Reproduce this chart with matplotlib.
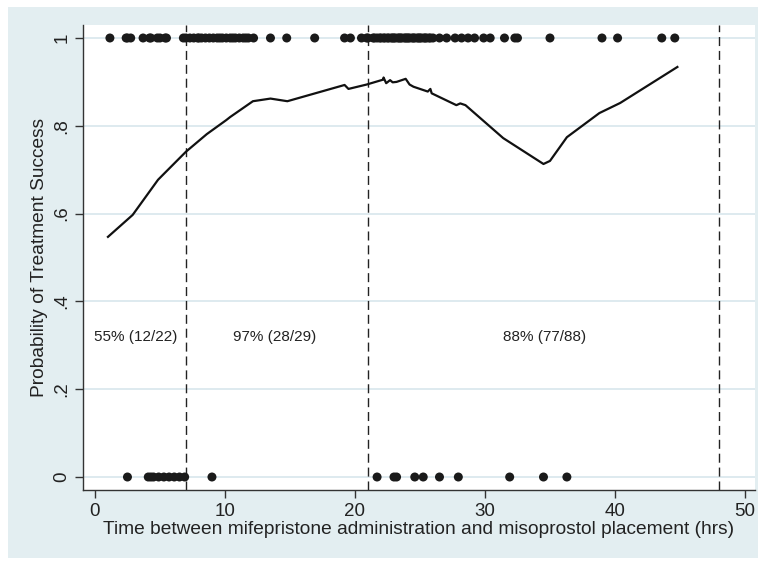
import matplotlib
matplotlib.use("Agg")
import matplotlib.pyplot as plt
from matplotlib.patches import Rectangle

plt.rcParams["font.family"] = ["Liberation Sans", "DejaVu Sans"]

# hours between mifepristone and misoprostol, successful cases (y = 1)
success_hrs = [1.15, 2.4, 2.5, 2.75, 3.7, 4.2, 4.3, 4.8, 5.0, 5.4, 5.5, 6.8,
               7.0, 7.3, 7.6, 7.9, 8.2, 8.5, 8.8, 9.1, 9.4, 9.8, 10.1, 10.4,
               10.8, 11.1, 11.4, 11.8, 12.2, 13.5, 14.75, 16.9, 19.2, 19.65,
               20.5, 20.9, 8.0, 9.6, 10.6, 11.6,
               21.0, 21.4, 21.5, 21.7, 21.9, 22.0, 22.2, 22.3, 22.5, 22.6, 22.8,
               22.9, 23.0, 23.1, 23.3, 23.4, 23.5, 23.6, 23.8, 23.9, 24.0, 24.1,
               24.2, 24.4, 24.5, 24.6, 24.8, 24.9, 25.0, 25.1, 25.3, 25.4, 25.5,
               25.7, 25.8, 26.0, 26.5, 27.05, 27.7, 28.2, 28.7, 29.2, 29.9,
               30.4, 31.5, 32.3, 32.5, 35.0, 39.0, 40.2, 43.6, 44.6]
# failed cases (y = 0)
failure_hrs = [2.5, 4.1, 4.3, 4.5, 4.9, 5.3, 5.7, 6.1, 6.5, 6.9, 9.0,
               21.7, 23.0, 23.2, 24.6, 25.25, 26.5, 27.95, 31.9, 34.5, 36.3]

# smoothed probability curve
curve_hrs = [1.0, 2.9, 4.85, 5.15, 7.0, 8.6, 10.1, 10.4, 12.15, 13.5, 14.8,
             19.2, 19.5, 20.9, 22.15, 22.2, 22.4, 22.7, 22.9, 23.2, 23.9, 24.2,
             24.5, 25.2, 25.6, 25.8, 25.9, 27.8, 28.1, 28.5, 31.4, 34.5, 35.0,
             36.3, 38.8, 40.4, 44.8]
curve_prob = [0.547, 0.597, 0.677, 0.686, 0.741, 0.781, 0.813, 0.820, 0.856,
              0.862, 0.856, 0.893, 0.884, 0.894, 0.905, 0.910, 0.897, 0.904,
              0.899, 0.900, 0.907, 0.894, 0.889, 0.882, 0.878, 0.884, 0.874,
              0.847, 0.851, 0.847, 0.772, 0.713, 0.720, 0.774, 0.829, 0.852,
              0.934]

cutoffs = [7, 21, 48]
group_labels = ["55% (12/22)", "97% (28/29)", "88% (77/88)"]
group_label_x = [3.1, 13.8, 34.6]

fig = plt.figure(figsize=(7.62, 5.64), dpi=100)
fig.patch.set_facecolor("white")
bg = Rectangle((8 / 762, 6 / 564), 750 / 762, 551 / 564,
               transform=fig.transFigure, facecolor="#e3eef1",
               edgecolor="none", zorder=-10)
fig.add_artist(bg)

ax = fig.add_axes([83 / 762, 74 / 564, 672 / 762, 465 / 564])
ax.set_zorder(1)
ax.set_facecolor("white")

ax.plot(curve_hrs, curve_prob, color="#111111", lw=1.6, zorder=3)
ax.scatter(success_hrs, [1] * len(success_hrs), s=42, color="#1a1a1a",
           edgecolors="none", zorder=4, clip_on=False)
ax.scatter(failure_hrs, [0] * len(failure_hrs), s=42, color="#1a1a1a",
           edgecolors="none", zorder=4, clip_on=False)
for c in cutoffs:
    ax.axvline(c, color="#222222", lw=1.0, linestyle=(0, (6.5, 3.5)), zorder=2)

for x, t in zip(group_label_x, group_labels):
    ax.text(x, 0.32, t, ha="center", va="center", fontsize=11,
            color="#222222")

ax.set_xlim(-0.92, 50.77)
ax.set_ylim(-0.0296, 1.0296)
ax.set_xticks([0, 10, 20, 30, 40, 50])
ax.set_yticks([0, 0.2, 0.4, 0.6, 0.8, 1.0])
ax.set_yticklabels(["0", ".2", ".4", ".6", ".8", "1"], rotation=90,
                   va="center")
ax.grid(axis="y", color="#d8e6ec", lw=1.2, zorder=1)
ax.set_axisbelow(True)
for s in ["top", "right"]:
    ax.spines[s].set_visible(False)
for s in ["left", "bottom"]:
    ax.spines[s].set_color("#333333")
    ax.spines[s].set_linewidth(1.0)
ax.tick_params(direction="out", length=6, width=1.0, color="#333333",
               labelsize=13.5, labelcolor="#222222", pad=3)
ax.set_xlabel("Time between mifepristone administration and misoprostol "
              "placement (hrs)", fontsize=13.8, color="#222222", labelpad=1)
ax.set_ylabel("Probability of Treatment Success", fontsize=13.8,
              color="#222222", labelpad=4)

fig.savefig("out.png", dpi=100)
